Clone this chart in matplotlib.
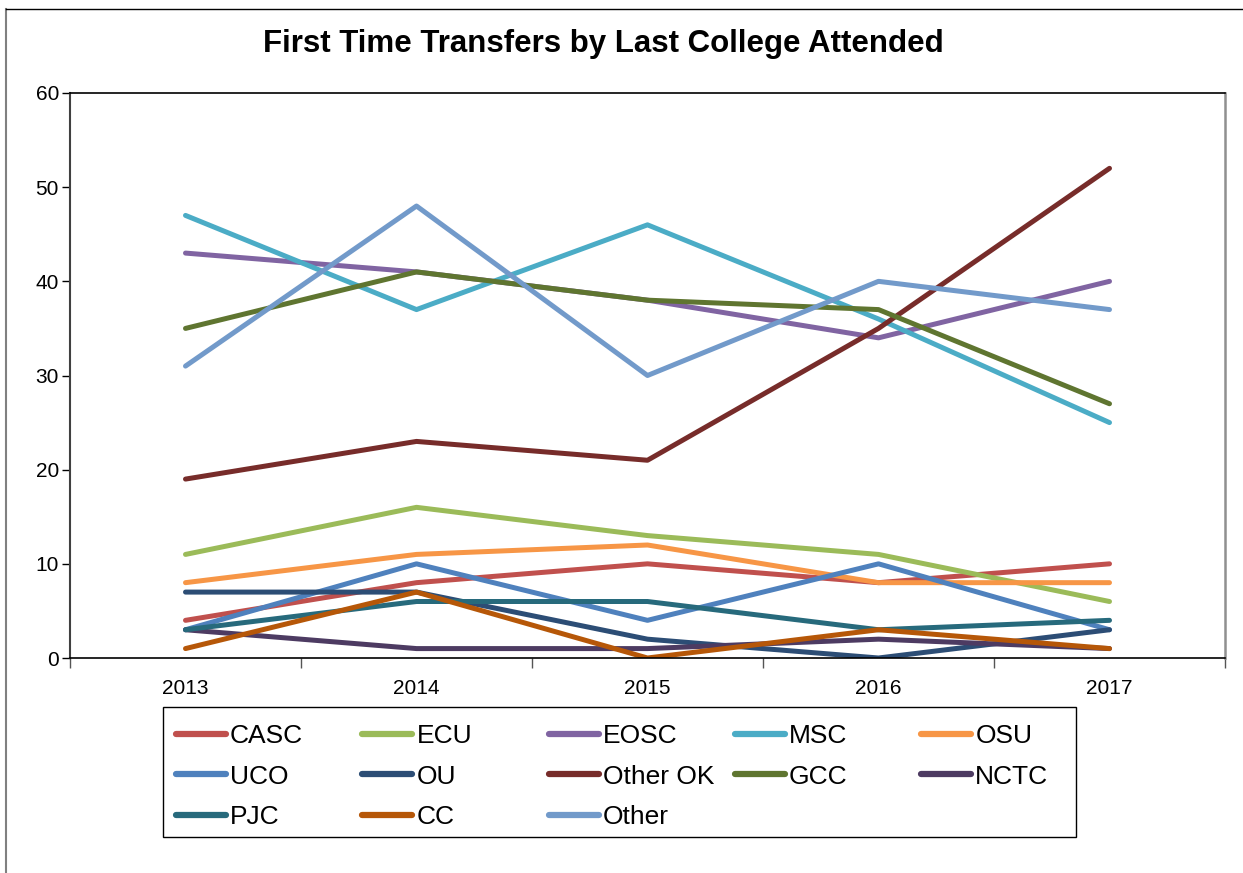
import matplotlib
matplotlib.use("Agg")
import matplotlib.pyplot as plt
from matplotlib.lines import Line2D
from matplotlib.patches import Rectangle

years = ["2013", "2014", "2015", "2016", "2017"]
series_names = ["CASC", "ECU", "EOSC", "MSC", "OSU", "UCO", "OU", "Other OK",
                "GCC", "NCTC", "PJC", "CC", "Other"]
casc = [4, 8, 10, 8, 10]
ecu = [11, 16, 13, 11, 6]
eosc = [43, 41, 38, 34, 40]
msc = [47, 37, 46, 36, 25]
osu = [8, 11, 12, 8, 8]
uco = [3, 10, 4, 10, 3]
ou = [7, 7, 2, 0, 3]
other_ok = [19, 23, 21, 35, 52]
gcc = [35, 41, 38, 37, 27]
nctc = [3, 1, 1, 2, 1]
pjc = [3, 6, 6, 3, 4]
cc = [1, 7, 0, 3, 1]
other = [31, 48, 30, 40, 37]
series_values = [casc, ecu, eosc, msc, osu, uco, ou, other_ok, gcc, nctc, pjc, cc, other]
colors = ["#C0504D", "#9BBB59", "#8064A2", "#4BACC6", "#F79646", "#4F81BD",
          "#2C4D75", "#772C2A", "#5F7530", "#4D3B62", "#276A7C", "#B65708", "#729ACA"]

plt.rcParams['font.family'] = ['Liberation Sans', 'DejaVu Sans']

W, H = 1243, 873
fig = plt.figure(figsize=(W / 100, H / 100), dpi=100)

# plot area in pixels
L, R, T, B = 70, 1225, 93, 658
ax = fig.add_axes([L / W, 1 - B / H, (R - L) / W, (B - T) / H])

x = list(range(len(years)))
handles = []
for name, vals, c in zip(series_names, series_values, colors):
    ln, = ax.plot(x, vals, color=c, lw=3.6, solid_capstyle='round',
                  solid_joinstyle='round', label=name)
    handles.append(ln)

ax.set_xlim(-0.5, len(years) - 0.5)
ax.set_ylim(0, 60)
ax.set_yticks(range(0, 61, 10))
ax.set_xticks([i - 0.5 for i in range(len(years) + 1)])
ax.set_xticklabels([])
ax.set_xticks(x, minor=True)
ax.set_xticklabels(years, minor=True)
ax.tick_params(axis='x', which='minor', length=0, pad=15, labelsize=15)
ax.tick_params(axis='x', which='major', length=7, width=1, color='#555555', direction='out')
ax.tick_params(axis='y', length=6, width=1, direction='out', labelsize=15, pad=2)
for s in ['top', 'bottom']:
    ax.spines[s].set_color('black')
    ax.spines[s].set_linewidth(1.2)
ax.spines['left'].set_color('#404040')
ax.spines['left'].set_linewidth(1.5)
ax.spines['right'].set_color('#909090')
ax.spines['right'].set_linewidth(1.8)

fig.text(603 / W, 1 - 44 / H, "First Time Transfers by Last College Attended",
         ha='center', va='center', fontsize=22.5, fontweight='bold')

# legend: Excel-style equal-width columns, entries read row by row
ncol = 5
col_x0, col_step = 176, 186.3
leg_top = 724
for col in range(ncol):
    idxs = [i for i in range(len(handles)) if i % ncol == col]
    leg = fig.legend([handles[i] for i in idxs], [series_names[i] for i in idxs],
                     loc='upper left',
                     bbox_to_anchor=((col_x0 + col * col_step) / W, 1 - leg_top / H),
                     fontsize=19, frameon=False, handlelength=1.9,
                     handletextpad=0.15, labelspacing=0.63, borderpad=0,
                     borderaxespad=0)
    for h in leg.legend_handles:
        h.set_linewidth(4.5)
        h.set_solid_capstyle('round')

fig.add_artist(Rectangle((163 / W, 1 - 837 / H), (1076 - 163) / W, (837 - 707) / H,
                         transform=fig.transFigure, fill=False, edgecolor='black',
                         lw=1.0))

# outer chart border (left and top visible)
fig.add_artist(Line2D([6 / W, 6 / W], [0, 1 - 9 / H], transform=fig.transFigure,
                      color='#808080', lw=1.5))
fig.add_artist(Line2D([6 / W, 1], [1 - 9 / H, 1 - 9 / H], transform=fig.transFigure,
                      color='black', lw=1.0))

fig.savefig("out.png", dpi=100)
